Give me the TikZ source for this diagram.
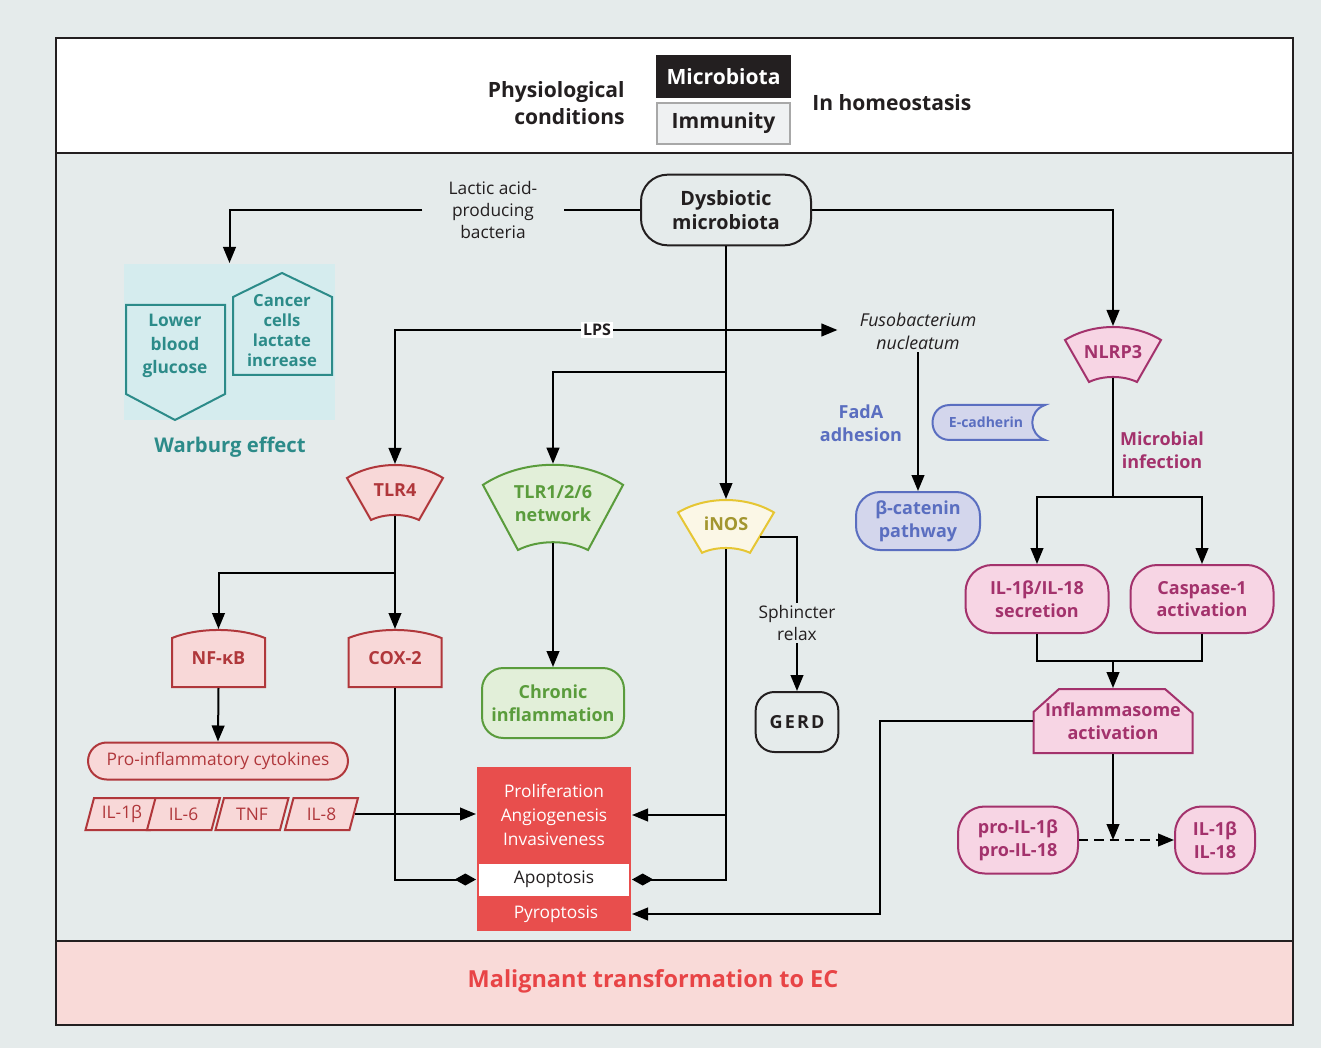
\documentclass[tikz,border=0pt]{standalone}
\usepackage{fontspec}
\setmainfont{Open Sans}
\usetikzlibrary{arrows.meta,positioning}

% fan shaped receptor box: name, centre, xscale, yscale, shape style, text style, text
\newcommand\fanbox[7]{%
  \begin{scope}[shift={#2}]
    \draw[#5,xscale=#3,yscale=#4] (-48,-12) .. controls (-20,-29.3) and (20,-29.3) .. (48,-12)
      -- (24,30) .. controls (10,23.3) and (-10,23.3) .. (-24,30) -- cycle;
    \node[#6,minimum width=#3*72pt,minimum height=#4*37.5pt] (#1) at (0,0) {#7};
  \end{scope}}
% box with a bowed top
\newcommand\capbox[3]{%
  \begin{scope}[shift={#2}]
    \draw[redshape] (-46.5,28.5) -- (-46.5,-20.5) .. controls (-20,-31.2) and (20,-31.2) .. (46.5,-20.5)
      -- (46.5,28.5) -- cycle;
    \node[bold,text=tred,minimum width=69.75pt,minimum height=42.75pt] (#1) at (0,0) {#3};
  \end{scope}}
% slanted cytokine box
\newcommand\cytobox[3]{%
  \begin{scope}[shift={(#2,814)}]
    \draw[redshape] (-36.5,16) -- (-28,-16) -- (36.5,-16) -- (28,16) -- cycle;
    \node[plain,text=tred,minimum width=48pt,minimum height=24pt] (#1) at (0,0) {#3};
  \end{scope}}

\begin{document}
\begin{tikzpicture}[x=0.75pt,y=-0.75pt,line width=1.5pt,
  arr/.style={-{Triangle[length=12pt,width=9.5pt]}},
  dia/.style={-{Diamond[length=16pt,width=9pt]}},
  hdr/.style={font=\bfseries\fontsize{15.8}{20}\selectfont,text=ink,align=center,inner sep=1pt},
  big/.style={font=\bfseries\fontsize{14.8}{18.5}\selectfont,text=ink,align=center,inner sep=1pt},
  bold/.style={font=\bfseries\fontsize{13.5}{17}\selectfont,align=center,inner sep=1pt},
  plain/.style={font=\fontsize{13}{16.8}\selectfont,text=ink,align=center,inner sep=1pt},
  redshape/.style={draw=tred,fill=tredfill},
  greenshape/.style={draw=tgreen,fill=tgreenfill},
  yelshape/.style={draw=tyel,fill=tyelfill},
  magshape/.style={draw=tmag,fill=tmagfill},
  blueshape/.style={draw=tblue,fill=tbluefill},
  roundbox/.style={bold,rounded corners=16pt},
  lpsbox/.style={font=\bfseries\fontsize{12}{14}\selectfont,fill=white,text=ink,inner sep=1.5pt}]
\definecolor{bgc}{HTML}{E5EBEB}
\definecolor{ink}{HTML}{231F20}
\definecolor{immfill}{HTML}{EFF1F2}
\definecolor{immdraw}{HTML}{A8A8A8}
\definecolor{tred}{HTML}{B0373B}
\definecolor{tredfill}{HTML}{F8D8D8}
\definecolor{tgreen}{HTML}{5A9C3C}
\definecolor{tgreenfill}{HTML}{E2EFD9}
\definecolor{tyel}{HTML}{E6C633}
\definecolor{tyelfill}{HTML}{FBF7E6}
\definecolor{tolive}{HTML}{A3962F}
\definecolor{tblue}{HTML}{5A6EC0}
\definecolor{tbluefill}{HTML}{D3D6EC}
\definecolor{tmag}{HTML}{A3326C}
\definecolor{tmagfill}{HTML}{F7D5E4}
\definecolor{tteal}{HTML}{2C8B89}
\definecolor{ttealfill}{HTML}{D5ECEE}
\definecolor{outred}{HTML}{E84E4D}
\definecolor{bandpink}{HTML}{F9DAD8}
\definecolor{bandtext}{HTML}{E84446}

% panels
\fill[bgc] (0,0) rectangle (1321,1048);
\useasboundingbox (0,0) rectangle (1321,1048);
\fill[white] (56,38) rectangle (1293,153);
\fill[bandpink] (56,941) rectangle (1293,1025);
\draw[ink] (56,38) rectangle (1293,1025);
\draw[ink] (56,153) -- (1293,153);
\draw[ink] (56,941) -- (1293,941);

% header
\node[hdr,align=right,anchor=east] (phys) at (627,103) {Physiological\\conditions};
\node[hdr,fill=ink,text=white,minimum width=101pt,minimum height=32pt] (micro) at (723.5,76.5) {Microbiota};
\node[hdr,fill=immfill,draw=immdraw,minimum width=99.5pt,minimum height=31pt] (immu) at (723.5,123.5) {Immunity};
\node[hdr,anchor=west] (homeo) at (810,103) {In homeostasis};

% source
\node[big,draw=ink,rounded corners=20pt,minimum width=127.5pt,minimum height=53pt] (dys) at (726,210) {Dysbiotic\\microbiota};
\node[plain,inner xsep=19pt] (lactic) at (493,210) {Lactic acid-\\producing\\bacteria};

% Warburg effect
\node[fill=ttealfill,minimum width=158pt,minimum height=117pt,inner sep=0] (warburg) at (229.5,342) {};
\draw[tteal] (126,305) -- (225,305) -- (225,394) -- (175,420) -- (126,394) -- cycle;
\draw[tteal] (233,297) -- (282,273) -- (332,297) -- (332,375) -- (233,375) -- cycle;
\node[bold,text=tteal,font=\bfseries\fontsize{13}{17.5}\selectfont] (glucose) at (175,346) {Lower\\blood\\glucose};
\node[bold,text=tteal,font=\bfseries\fontsize{12.5}{15}\selectfont] (cancer) at (282,331) {Cancer\\cells\\lactate\\increase};
\node[big,text=tteal,font=\bfseries\fontsize{15.2}{18.5}\selectfont] (wlabel) at (230,447) {Warburg effect};

% receptors
\fanbox{tlr4}{(395,490)}{1}{1}{redshape}{bold,text=tred}{TLR4}
\fanbox{tlr126}{(553,503.5)}{1.46}{1.55}{greenshape}{bold,text=tgreen}{TLR1/2/6\\network}
\fanbox{inos}{(726,524)}{1}{0.96}{yelshape}{bold,text=tolive}{iNOS}
\fanbox{nlrp3}{(1113,352)}{1}{1}{magshape}{bold,text=tmag}{NLRP3}

% TLR4 branch
\capbox{nfkb}{(218.5,658.5)}{NF-κB}
\capbox{cox2}{(395,658.5)}{COX-2}
\node[plain,redshape,text=tred,rounded corners=14pt,minimum width=195pt,minimum height=27.75pt] (procyt) at (218,761) {Pro-inflammatory cytokines};
\cytobox{il1b}{122}{IL-1β}
\cytobox{il6}{183.5}{IL-6}
\cytobox{tnf}{252}{TNF}
\cytobox{il8}{321.5}{IL-8}

\node[roundbox,greenshape,text=tgreen,minimum width=106.5pt,minimum height=52.5pt] (chronic) at (553,703) {Chronic\\inflammation};

% outcomes
\node[fill=outred,minimum width=115.5pt,minimum height=123pt,inner sep=0] (outcome) at (554,849) {};
\node[plain,text=white,font=\fontsize{13}{18}\selectfont] (prolif) at (554,815) {Proliferation\\Angiogenesis\\Invasiveness};
\node[plain,fill=white,font=\fontsize{13}{16}\selectfont,minimum width=112.5pt,minimum height=24pt,inner sep=0] (apop) at (554,879.5) {Apoptosis};
\node[plain,text=white,font=\fontsize{13}{16}\selectfont] (pyro) at (556,914) {Pyroptosis};

% iNOS branch
\node[plain] (sph) at (797,623) {Sphincter\\relax};
\node[bold,text=ink,draw=ink,rounded corners=14pt,minimum width=62pt,minimum height=45pt] (gerd) at (797,722) {\addfontfeature{LetterSpace=12}GERD};

% Fusobacterium
\node[plain,font=\itshape\fontsize{13.3}{17.5}\selectfont,inner xsep=16pt,inner ysep=1pt] (fuso) at (918,331.5) {Fusobacterium\\nucleatum};
\node[bold,text=tblue] (fada) at (861,423) {FadA\\adhesion};
\draw[blueshape] (950,405) -- (1045,405) .. controls (1028,411) and (1028,434) .. (1045,440)
  -- (950,440) .. controls (926.7,440) and (926.7,405) .. (950,405) -- cycle;
\node[bold,text=tblue,font=\bfseries\fontsize{10.5}{12}\selectfont] (ecad) at (986,422) {E-cadherin};
\node[roundbox,blueshape,text=tblue,rounded corners=18pt,minimum width=93pt,minimum height=43.5pt] (beta) at (918,521) {β-catenin\\pathway};

% inflammasome
\node[bold,text=tmag] (micinf) at (1162,450) {Microbial\\infection};
\node[roundbox,magshape,text=tmag,rounded corners=20pt,minimum width=107.25pt,minimum height=51pt] (il1sec) at (1037,599) {IL-1β/IL-18\\secretion};
\node[roundbox,magshape,text=tmag,rounded corners=20pt,minimum width=107.25pt,minimum height=51pt] (casp) at (1202,599) {Caspase-1\\activation};
\begin{scope}[shift={(1113,721)}]
  \draw[magshape] (-79.5,32) -- (-79.5,-9) -- (-54,-32) -- (52,-32) -- (79.5,-8) -- (79.5,32) -- cycle;
  \node[bold,text=tmag,minimum width=119.25pt,minimum height=48pt] (inflam) at (0,0) {Inflammasome\\activation};
\end{scope}
\node[roundbox,magshape,text=tmag,rounded corners=20pt,minimum width=90pt,minimum height=50.25pt] (pro) at (1018,840) {pro-IL-1β\\pro-IL-18};
\node[roundbox,magshape,text=tmag,rounded corners=20pt,minimum width=60pt,minimum height=50.25pt] (il1bout) at (1215,840) {IL-1β\\IL-18};

% connectors
\coordinate (lpsfork) at (726,330);
\coordinate (tlrfork) at (726,372);
\coordinate (tlr4fork) at (395,573);
\coordinate (nlfork) at (1113,497);
\coordinate (join) at (1113,661);
\coordinate (bend) at (880,721);

\draw (dys.west) -- (lactic.east);
\draw[arr] (lactic.west) -| (warburg.north);
\draw[arr] (dys.east) -| (nlrp3.north);
\draw[arr] (dys.south) -- (inos.north);
\draw[arr] (lpsfork) -| (tlr4.north);
\draw[arr] (lpsfork) -- (lpsfork -| fuso.west);
\draw[arr] (tlrfork) -| (tlr126.north);
\node[lpsbox] (lps) at (597,330) {LPS};

\draw[arr] (tlr4.south) -- (cox2.north);
\draw[arr] (tlr4fork) -| (nfkb.north);
\draw[arr] (nfkb.south) -- (procyt.north);
\draw[arr] (il8.east) -- (il8 -| outcome.west);
\draw[dia] (cox2.south) |- (apop -| outcome.west);
\draw[arr] (tlr126.south) -- (chronic.north);

\draw[dia] (inos.south) |- (apop -| outcome.east);
\draw[arr] (inos.south |- prolif) -- (prolif -| outcome.east);
\draw ([shift={(34,13)}]inos.center) -| (sph.north);
\draw[arr] (sph.south) -- (gerd.north);

\draw[arr] (fuso.south) -- (beta.north);

\draw (nlrp3.south) -- (nlfork);
\draw[arr] (nlfork) -| (il1sec.north);
\draw[arr] (nlfork) -| (casp.north);
\draw (il1sec.south) |- (join) -| (casp.south);
\draw[arr] (join) -- (inflam.north);
\draw[arr] (inflam.south) -- (inflam.south |- pro);
\draw[arr,dash pattern=on 7pt off 4.5pt] (pro.east) -- (il1bout.west);
\draw[arr] (inflam.west) -- (bend) |- (pyro -| outcome.east);

% result
\node[font=\bfseries\fontsize{17.6}{20}\selectfont,text=bandtext] (malig) at (653,981) {Malignant transformation to EC};
\end{tikzpicture}
\end{document}
